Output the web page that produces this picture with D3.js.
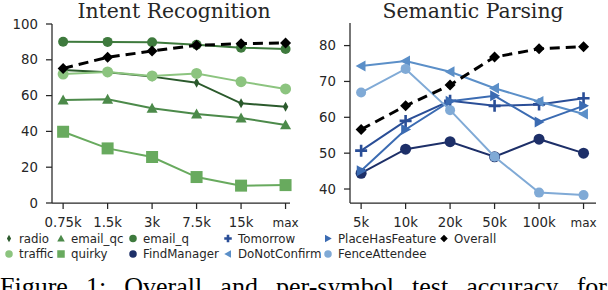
<!DOCTYPE html>
<html>
<head>
<meta charset="utf-8">
<script src="https://cdn.jsdelivr.net/npm/d3@7"></script>
<style>
  body { margin: 0; background: #fff; }
  svg text { fill: #262626; }
</style>
</head>
<body>
<svg id="chart" width="608" height="290"></svg>
<script>
// Intent recognition (left panel)
const intentSizes = ["0.75k", "1.5k", "3k", "7.5k", "15k", "max"];
const intentTicks = [0, 20, 40, 60, 80, 100];
const radio    = [74.3, 73.0, 70.6, 67.2, 55.7, 53.8];
const emailQc  = [57.5, 57.9, 52.9, 49.7, 47.5, 43.6];
const emailQ   = [90.1, 90.0, 89.8, 88.4, 86.8, 86.0];
const traffic  = [72.0, 73.2, 71.0, 72.4, 67.8, 63.7];
const quirky   = [39.8, 30.5, 25.7, 14.5, 9.7, 10.0];
const intentOverall = [75.2, 81.4, 84.9, 88.1, 89.0, 89.4];

// Semantic parsing (right panel)
const parseSizes = ["5k", "10k", "20k", "50k", "100k", "max"];
const parseTicks = [40, 50, 60, 70, 80];
const tomorrow        = [50.7, 59.0, 64.6, 63.2, 63.6, 65.3];
const placeHasFeature = [45.1, 56.6, 64.5, 66.0, 58.7, 63.2];
const findManager     = [44.4, 51.1, 53.2, 49.0, 53.9, 50.0];
const doNotConfirm    = [74.3, 75.7, 72.7, 68.1, 64.4, 60.9];
const fenceAttendee   = [66.9, 73.5, 62.0, 49.0, 39.0, 38.3];
const parseOverall    = [56.6, 63.2, 69.0, 76.8, 79.1, 79.7];

const svg = d3.select("#chart");
const ink = "#262626";

const panels = [
  {
    title: "Intent Recognition", titleX: 174,
    cats: intentSizes, ticks: intentTicks,
    x: d3.scaleLinear().domain([-0.25, 5.1]).range([52, 290]),
    y: d3.scaleLinear().domain([0, 100]).range([203, 24]),
    series: [
      { name: "radio", values: radio, color: "#2b5a2c", marker: "thin", size: 10, width: 2 },
      { name: "traffic", values: traffic, color: "#8cc47f", marker: "circle", size: 11, width: 2 },
      { name: "email_qc", values: emailQc, color: "#4c8a4a", marker: "triangle", size: 11, width: 2 },
      { name: "quirky", values: quirky, color: "#68aa5e", marker: "square", size: 12, width: 2 },
      { name: "email_q", values: emailQ, color: "#3e7a3d", marker: "circle", size: 10, width: 2 },
      { name: "Overall", values: intentOverall, color: "#000", marker: "diamond", size: 11, width: 3, dash: "10,6" }
    ]
  },
  {
    title: "Semantic Parsing", titleX: 473,
    cats: parseSizes, ticks: parseTicks,
    x: d3.scaleLinear().domain([-0.25, 5.28]).range([350, 596]),
    y: d3.scaleLinear().domain([36.1, 86.3]).range([203, 23]),
    series: [
      { name: "FindManager", values: findManager, color: "#1d2f68", marker: "circle", size: 11, width: 2 },
      { name: "Tomorrow", values: tomorrow, color: "#2a4e97", marker: "plus", size: 12, width: 2 },
      { name: "DoNotConfirm", values: doNotConfirm, color: "#5b8fc8", marker: "left", size: 11, width: 2 },
      { name: "PlaceHasFeature", values: placeHasFeature, color: "#3b6bb2", marker: "right", size: 11, width: 2 },
      { name: "FenceAttendee", values: fenceAttendee, color: "#80aad6", marker: "circle", size: 10, width: 2 },
      { name: "Overall", values: parseOverall, color: "#000", marker: "diamond", size: 11, width: 3, dash: "10,6" }
    ]
  }
];

// marker path centred on 0,0 with size s (rough width in px)
function markerPath(type, s) {
  const h = s / 2;
  switch (type) {
    case "circle": return d3.symbol(d3.symbolCircle, Math.PI * h * h)();
    case "square": return `M${-h},${-h}H${h}V${h}H${-h}Z`;
    case "triangle": return `M0,${-h}L${h},${h * 0.8}L${-h},${h * 0.8}Z`;
    case "left": return `M${-h},0L${h * 0.8},${-h}L${h * 0.8},${h}Z`;
    case "right": return `M${h},0L${-h * 0.8},${-h}L${-h * 0.8},${h}Z`;
    case "diamond": return `M0,${-h}L${h},0L0,${h}L${-h},0Z`;
    case "thin": return `M0,${-h}L${h * 0.55},0L0,${h}L${-h * 0.55},0Z`;
    case "plus": return `M${-h},-1.3H-1.3V${-h}H1.3V-1.3H${h}V1.3H1.3V${h}H-1.3V1.3H${-h}Z`;
  }
}

panels.forEach(p => {
  const g = svg.append("g");
  const [x0, x1] = p.x.range();
  const [yb, yt] = p.y.range();

  // spines
  g.append("line").attr("x1", x0).attr("x2", x0).attr("y1", yb).attr("y2", yt)
    .attr("stroke", ink).attr("stroke-width", 1.25);
  g.append("line").attr("x1", x0).attr("x2", x1).attr("y1", yb).attr("y2", yb)
    .attr("stroke", ink).attr("stroke-width", 1.25);

  // y ticks
  p.ticks.forEach(t => {
    g.append("line").attr("x1", x0 - 6).attr("x2", x0).attr("y1", p.y(t)).attr("y2", p.y(t))
      .attr("stroke", ink).attr("stroke-width", 1.25);
    g.append("text").attr("x", x0 - 14).attr("y", p.y(t)).attr("dy", "0.35em")
      .attr("text-anchor", "end").attr("font-family", "DejaVu Sans").attr("font-size", 13.3)
      .text(t);
  });

  // x ticks
  p.cats.forEach((c, i) => {
    g.append("line").attr("x1", p.x(i)).attr("x2", p.x(i)).attr("y1", yb).attr("y2", yb + 6)
      .attr("stroke", ink).attr("stroke-width", 1.25);
    g.append("text").attr("x", p.x(i)).attr("y", 227)
      .attr("text-anchor", "middle").attr("font-family", "DejaVu Sans")
      .attr("font-size", c === "max" ? 12 : 13.3)
      .text(c);
  });

  g.append("text").attr("x", p.titleX).attr("y", 17.5)
    .attr("text-anchor", "middle").attr("font-family", "DejaVu Serif").attr("font-size", 20.4)
    .text(p.title);

  const line = d3.line().x((d, i) => p.x(i)).y(d => p.y(d));
  p.series.forEach(s => {
    g.append("path").attr("d", line(s.values)).attr("fill", "none")
      .attr("stroke", s.color).attr("stroke-width", s.width)
      .attr("stroke-dasharray", s.dash || null);
    g.selectAll(null).data(s.values).enter().append("path")
      .attr("d", markerPath(s.marker, s.size))
      .attr("transform", (d, i) => `translate(${p.x(i)},${p.y(d)})`)
      .attr("fill", s.color);
  });
});

// legend
const legendItems = [
  { name: "radio", color: "#2b5a2c", marker: "thin", col: 0, row: 0 },
  { name: "traffic", color: "#8cc47f", marker: "circle", col: 0, row: 1 },
  { name: "email_qc", color: "#4c8a4a", marker: "triangle", col: 1, row: 0 },
  { name: "quirky", color: "#68aa5e", marker: "square", col: 1, row: 1 },
  { name: "email_q", color: "#3e7a3d", marker: "circle", col: 2, row: 0 },
  { name: "FindManager", color: "#1d2f68", marker: "circle", col: 2, row: 1 },
  { name: "Tomorrow", color: "#2a4e97", marker: "plus", col: 3, row: 0 },
  { name: "DoNotConfirm", color: "#5b8fc8", marker: "left", col: 3, row: 1 },
  { name: "PlaceHasFeature", color: "#3b6bb2", marker: "right", col: 4, row: 0 },
  { name: "FenceAttendee", color: "#80aad6", marker: "circle", col: 4, row: 1 },
  { name: "Overall", color: "#000", marker: "diamond", col: 5, row: 0 }
];
const colX = [9, 61, 133, 228, 328, 444];
const rowY = [238.5, 254];
const legend = svg.append("g");
legendItems.forEach(it => {
  legend.append("path").attr("d", markerPath(it.marker, 7.5))
    .attr("transform", `translate(${colX[it.col]},${rowY[it.row]})`).attr("fill", it.color);
  legend.append("text").attr("x", colX[it.col] + 10).attr("y", rowY[it.row]).attr("dy", "0.35em")
    .attr("font-family", "DejaVu Sans").attr("font-size", 11.8).text(it.name);
});

// caption (cut off at the bottom of the picture), justified with word spacing
const caption = svg.append("text").attr("x", 0).attr("y", 295)
  .attr("font-family", "Liberation Serif").attr("font-size", 26)
  .style("fill", "#000")
  .text("Figure 1:  Overall and per-symbol test accuracy for");
const words = 7;
const natural = caption.node().getComputedTextLength();
caption.attr("word-spacing", Math.max(0, (607 - natural) / words));
</script>
</body>
</html>
